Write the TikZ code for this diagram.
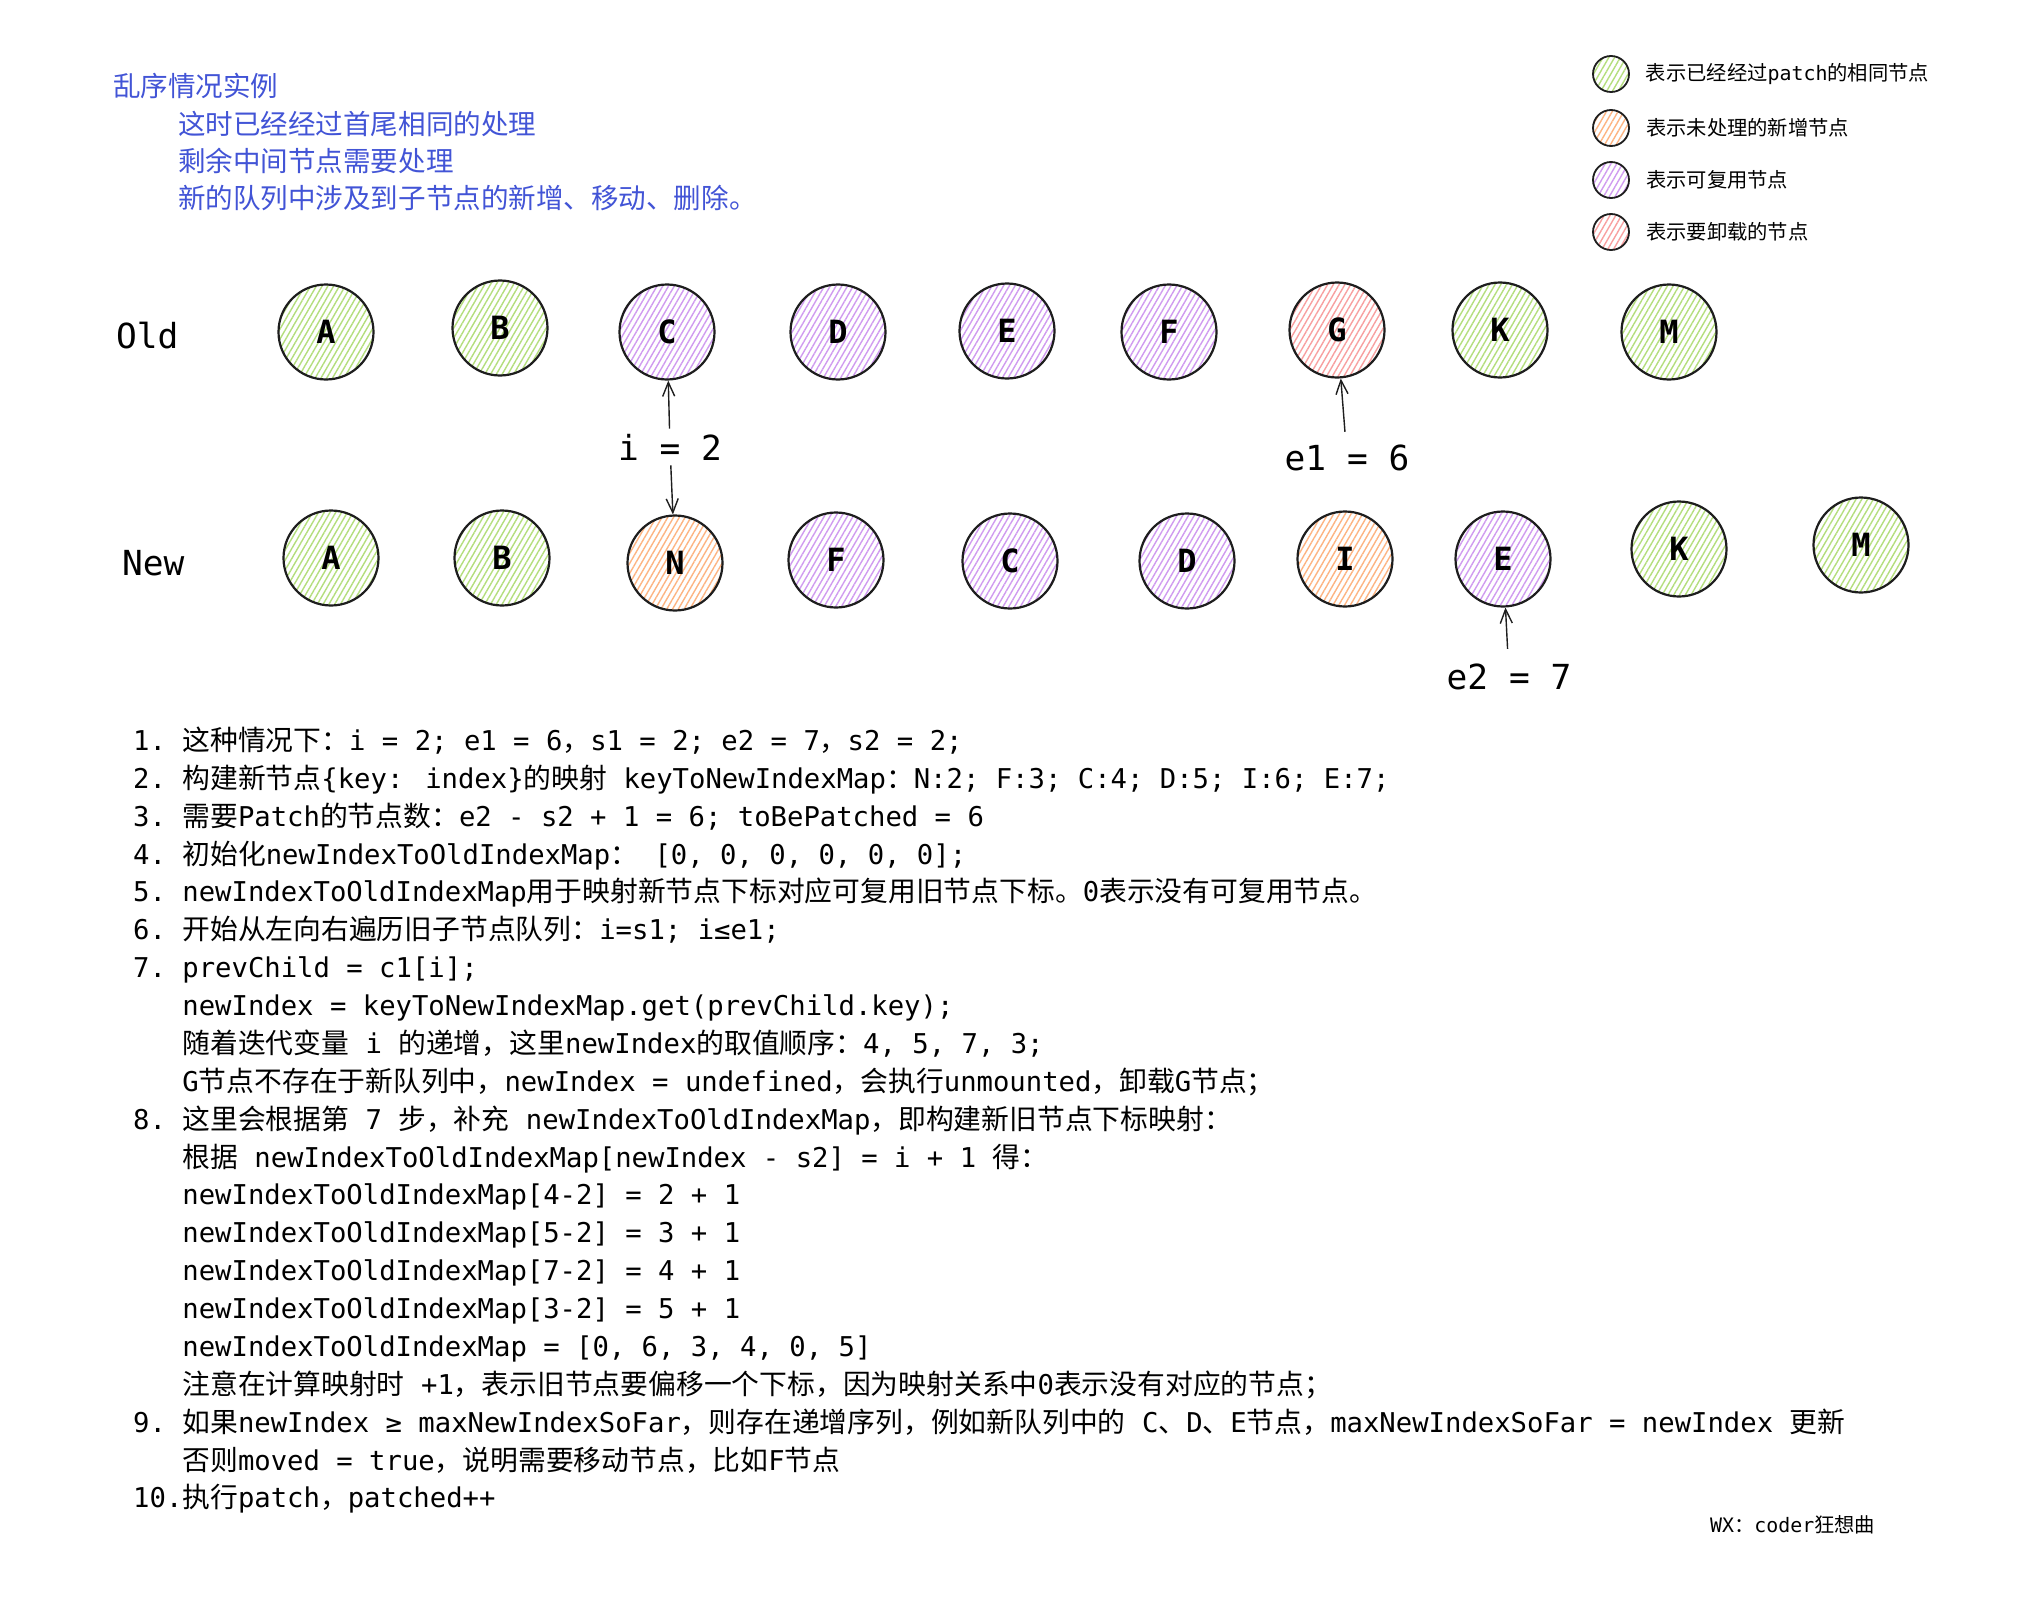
\documentclass[tikz,border=0pt]{standalone}
\usepackage{fontspec}
\setmainfont{DejaVu Sans Mono}
\newfontfamily\cjkfont[Scale=1.02]{Noto Sans CJK SC}
\usetikzlibrary{positioning,patterns.meta,arrows.meta}
\definecolor{ink}{RGB}{30,30,30}
\definecolor{hgreen}{RGB}{180,222,125}
\definecolor{horange}{RGB}{253,180,130}
\definecolor{hpurple}{RGB}{208,155,240}
\definecolor{hred}{RGB}{248,160,160}
\definecolor{introblue}{RGB}{66,84,214}
% bascule automatique vers la fonte CJK
\XeTeXinterchartokenstate=1
\newXeTeXintercharclass\cjkclass
\newcount\cjkc
\def\cjkrange#1#2{\cjkc=#1\relax
  \loop\XeTeXcharclass\cjkc=\cjkclass\relax\advance\cjkc by 1\relax
  \ifnum\cjkc<#2\relax\repeat}
\cjkrange{"3000}{"3040}
\cjkrange{"4E00}{"A000}
\cjkrange{"FF00}{"FFF0}
\XeTeXinterchartoks 0 \cjkclass = {\cjkfont}
\XeTeXinterchartoks 4095 \cjkclass = {\cjkfont}
\XeTeXinterchartoks \cjkclass 0 = {\normalfont}
\XeTeXinterchartoks \cjkclass 4095 = {\normalfont}
\newcommand\lnum[1]{\normalfont\makebox[1.806em][l]{#1}}
\begin{document}
\begin{tikzpicture}[x=1pt,y=-1pt,
    knot/.style={circle,draw=ink,line width=2.2pt,minimum size=95pt,inner sep=0pt,font=\fontsize{32}{32}\selectfont\bfseries},
    hatch/.style={pattern={Lines[angle=60,distance=5pt,line width=1.4pt]},pattern color=#1},
    same/.style={knot,hatch=hgreen},
    fresh/.style={knot,hatch=horange},
    reuse/.style={knot,hatch=hpurple},
    drop/.style={knot,hatch=hred},
    swatch/.style={circle,draw=ink,line width=1.8pt,minimum size=36pt,inner sep=0pt,hatch=#1},
    lbl/.style={inner sep=5pt,font=\fontsize{34.5}{35}\selectfont},
    ptr/.style={draw=ink,line width=1.4pt,-{Straight Barb[length=14pt,width=12pt]}},
    intro/.style={anchor=west,inner sep=0pt,text=introblue,font=\fontsize{27}{30}\selectfont},
    keytxt/.style={anchor=west,inner sep=0pt,font=\fontsize{19.9}{22}\selectfont},
    listline/.style={anchor=base west,inner sep=0pt,font=\fontsize{27.25}{38}\selectfont}]
  \fill[white] (0,0) rectangle (2018,1624);
  \useasboundingbox (0,0) rectangle (2018,1624);

  \node[intro] (head) at (113,86) {乱序情况实例};
  \foreach \y/\txt [count=\idx] in {124/这时已经经过首尾相同的处理,161/剩余中间节点需要处理,198/新的队列中涉及到子节点的新增、移动、删除。}
    \node[intro] (intro\idx) at (178,\y) {\txt};

  % legende
  \foreach \y/\col/\txt [count=\idx] in {74/hgreen/表示已经经过patch的相同节点,128/horange/表示未处理的新增节点,180/hpurple/表示可复用节点,232/hred/表示要卸载的节点}{
    \node[swatch=\col] (key\idx) at (1611,\y) {};
    \node[keytxt,right=16pt of key\idx] (keytxt\idx) {\txt};}

  \node[lbl,anchor=west,inner sep=0pt] (old) at (116,336) {Old};
  \node[lbl,anchor=west,inner sep=0pt] (new) at (122,563) {New};
  \foreach \x/\y/\lt/\st in {326/332/A/same,500/328/B/same,667/332/C/reuse,838/332/D/reuse,1007/331/E/reuse,1169/332/F/reuse,1337/330/G/drop,1500/330/K/same,1669/332/M/same}
    \node[\st] (o\lt) at (\x,\y) {\lt};
  \foreach \x/\y/\lt/\st in {331/558/A/same,502/558/B/same,675/563/N/fresh,836/560/F/reuse,1010/561/C/reuse,1187/561/D/reuse,1345/559/I/fresh,1503/559/E/reuse,1679/549/K/same,1861/545/M/same}
    \node[\st] (n\lt) at (\x,\y) {\lt};

  \node[lbl] (ilab) at (670,447) {i = 2};
  \draw[ptr] (ilab) -- (oC);
  \draw[ptr] (ilab) -- (nN);
  \node[lbl] (e1lab) at (1347,458) {e1 = 6};
  \draw[ptr,shorten <=8pt] (e1lab) -- (oG);
  \node[lbl] (e2lab) at (1509,677) {e2 = 7};
  \draw[ptr,shorten <=10pt] (e2lab) -- (nE);

  \foreach \txt [count=\idx] in {
      {\lnum{1.}这种情况下：i = 2; e1 = 6，s1 = 2; e2 = 7，s2 = 2;},
      {\lnum{2.}构建新节点\{key: index\}的映射 keyToNewIndexMap：N:2; F:3; C:4; D:5; I:6; E:7;},
      {\lnum{3.}需要Patch的节点数：e2 - s2 + 1 = 6; toBePatched = 6},
      {\lnum{4.}初始化newIndexToOldIndexMap： [0, 0, 0, 0, 0, 0];},
      {\lnum{5.}newIndexToOldIndexMap用于映射新节点下标对应可复用旧节点下标。0表示没有可复用节点。},
      {\lnum{6.}开始从左向右遍历旧子节点队列：i=s1; i≤e1;},
      {\lnum{7.}prevChild = c1[i];},
      {\lnum{}newIndex = keyToNewIndexMap.get(prevChild.key);},
      {\lnum{}随着迭代变量 i 的递增，这里newIndex的取值顺序：4, 5, 7, 3;},
      {\lnum{}G节点不存在于新队列中，newIndex = undefined，会执行unmounted，卸载G节点；},
      {\lnum{8.}这里会根据第 7 步，补充 newIndexToOldIndexMap，即构建新旧节点下标映射：},
      {\lnum{}根据 newIndexToOldIndexMap[newIndex - s2] = i + 1 得：},
      {\lnum{}newIndexToOldIndexMap[4-2] = 2 + 1},
      {\lnum{}newIndexToOldIndexMap[5-2] = 3 + 1},
      {\lnum{}newIndexToOldIndexMap[7-2] = 4 + 1},
      {\lnum{}newIndexToOldIndexMap[3-2] = 5 + 1},
      {\lnum{}newIndexToOldIndexMap = [0, 6, 3, 4, 0, 5]},
      {\lnum{}注意在计算映射时 +1，表示旧节点要偏移一个下标，因为映射关系中0表示没有对应的节点；},
      {\lnum{9.}如果newIndex ≥ maxNewIndexSoFar，则存在递增序列，例如新队列中的 C、D、E节点，maxNewIndexSoFar = newIndex 更新},
      {\lnum{}否则moved = true，说明需要移动节点，比如F节点},
      {\lnum{10.}执行patch，patched++}}
    \node[listline] (line\idx) at (133,{750.5+37.87*(\idx-1)}) {\txt};

  \node[keytxt] (wx) at (1710,1525) {WX：coder狂想曲};
\end{tikzpicture}
\end{document}
